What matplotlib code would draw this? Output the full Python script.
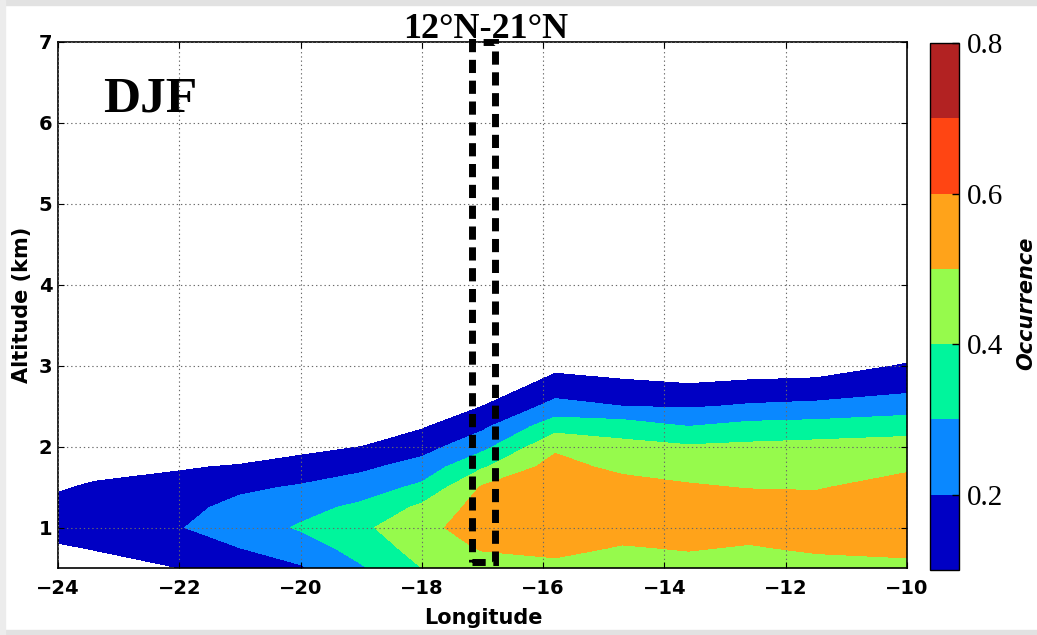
import numpy as np
import matplotlib
matplotlib.use("Agg")
import matplotlib.pyplot as plt
from matplotlib.patches import Rectangle

# ---------------- data ----------------
longitudes = [-24.0, -23.4, -22.0, -21.0, -20.0, -19.0, -18.0, -17.0,
              -15.8, -14.7, -13.6, -12.6, -11.5, -10.0]
altitudes = [0.5, 0.75, 1.0, 1.25, 1.5, 1.75, 2.0, 2.25, 2.5, 2.75, 3.0, 3.25, 3.5]

# occurrence profiles (one list per longitude, bottom -> top)
occ_m24_0 = [0.00, 0.08, 0.17, 0.14, 0.085, 0.00, 0.00, 0.00, 0.00, 0.00, 0.00, 0.00, 0.00]
occ_m23_4 = [0.03, 0.11, 0.19, 0.16, 0.12, 0.05, 0.00, 0.00, 0.00, 0.00, 0.00, 0.00, 0.00]
occ_m22_0 = [0.10, 0.15, 0.195, 0.17, 0.14, 0.09, 0.02, 0.00, 0.00, 0.00, 0.00, 0.00, 0.00]
occ_m21_0 = [0.13, 0.20, 0.25, 0.23, 0.18, 0.11, 0.03, 0.00, 0.00, 0.00, 0.00, 0.00, 0.00]
occ_m20_0 = [0.19, 0.25, 0.31, 0.27, 0.21, 0.14, 0.07, 0.00, 0.00, 0.00, 0.00, 0.00, 0.00]
occ_m19_0 = [0.29, 0.34, 0.38, 0.32, 0.25, 0.18, 0.10, 0.02, 0.00, 0.00, 0.00, 0.00, 0.00]
occ_m18_0 = [0.40, 0.44, 0.47, 0.42, 0.32, 0.24, 0.16, 0.09, 0.02, 0.00, 0.00, 0.00, 0.00]
occ_m17_0 = [0.45, 0.51, 0.55, 0.54, 0.51, 0.39, 0.27, 0.18, 0.10, 0.02, 0.00, 0.00, 0.00]
occ_m15_8 = [0.46, 0.54, 0.58, 0.58, 0.57, 0.54, 0.48, 0.36, 0.23, 0.15, 0.07, 0.00, 0.00]
occ_m14_7 = [0.44, 0.49, 0.56, 0.58, 0.55, 0.47, 0.43, 0.35, 0.20, 0.13, 0.04, 0.00, 0.00]
occ_m13_6 = [0.45, 0.51, 0.56, 0.56, 0.51, 0.46, 0.41, 0.30, 0.19, 0.11, 0.02, 0.00, 0.00]
occ_m12_6 = [0.44, 0.49, 0.55, 0.55, 0.495, 0.46, 0.42, 0.33, 0.21, 0.13, 0.03, 0.00, 0.00]
occ_m11_5 = [0.45, 0.52, 0.56, 0.55, 0.49, 0.46, 0.43, 0.34, 0.22, 0.14, 0.04, 0.00, 0.00]
occ_m10_0 = [0.46, 0.54, 0.57, 0.57, 0.55, 0.48, 0.44, 0.36, 0.25, 0.17, 0.11, 0.03, 0.00]

levels = [0.1, 0.2, 0.3, 0.4, 0.5, 0.6, 0.7, 0.8]
cbar_ticks = [0.2, 0.4, 0.6, 0.8]
cbar_ticklabels = ["0.2", "0.4", "0.6", "0.8"]
x_ticks = [-24, -22, -20, -18, -16, -14, -12, -10]
y_ticks = [1, 2, 3, 4, 5, 6, 7]
box_lon = [-17.17, -16.79]
box_alt = [0.58, 7.0]

colors = ["#0000c4", "#0a88ff", "#00f59c", "#96fa4c", "#ffa31a", "#ff4513", "#b22222"]

Z = np.array([occ_m24_0, occ_m23_4, occ_m22_0, occ_m21_0, occ_m20_0, occ_m19_0,
              occ_m18_0, occ_m17_0, occ_m15_8, occ_m14_7, occ_m13_6, occ_m12_6,
              occ_m11_5, occ_m10_0]).T

sans = ["DejaVu Sans Condensed", "DejaVu Sans"]

# ---------------- figure ----------------
W, H = 1037, 635
fig = plt.figure(figsize=(W / 100, H / 100), dpi=100)
fig.patch.set_facecolor("white")

# light grey scan border
fig.patches.append(Rectangle((0, 1 - 5 / H), 1, 5 / H, transform=fig.transFigure,
                             color="#e2e2e2", zorder=0))
fig.patches.append(Rectangle((0, 0), 1, 5 / H, transform=fig.transFigure,
                             color="#e2e2e2", zorder=0))
fig.patches.append(Rectangle((0, 0), 5 / W, 1, transform=fig.transFigure,
                             color="#ececec", zorder=0))

ax_l, ax_r, ax_t, ax_b = 58, 907, 42, 568
ax = fig.add_axes([ax_l / W, 1 - ax_b / H, (ax_r - ax_l) / W, (ax_b - ax_t) / H])
cs = ax.contourf(longitudes, altitudes, Z, levels=levels, colors=colors)
ax.set_xlim(-24, -10)
ax.set_ylim(0.5, 7)
ax.set_xticks(x_ticks)
ax.set_yticks(y_ticks)
ax.set_xticklabels([f"\u2212{abs(v)}" for v in x_ticks])
ax.set_yticklabels([str(v) for v in y_ticks])
ax.grid(True, color="#6a6a6a", linestyle=(0, (1.2, 2.6)), linewidth=0.8)
ax.set_axisbelow(False)
ax.tick_params(direction="in", top=True, right=True, length=4, width=0.8)
ax.tick_params(axis="x", pad=8, labelsize=14)
ax.tick_params(axis="y", pad=4, labelsize=14)
for lab in ax.get_xticklabels() + ax.get_yticklabels():
    lab.set_fontweight("bold")
    lab.set_family(sans)
for sp in ax.spines.values():
    sp.set_linewidth(1.2)

# dashed box
rect = Rectangle((box_lon[0], box_alt[0]), box_lon[1] - box_lon[0], box_alt[1] - box_alt[0],
                 fill=False, edgecolor="black", linewidth=5,
                 linestyle=(0, (1.9, 1.1)), clip_on=False, zorder=5)
ax.add_patch(rect)

ax.text(0.053, 0.867, "DJF", transform=ax.transAxes, fontsize=37, fontweight="bold",
        family="Liberation Serif", ha="left", va="baseline")
ax.text(0.504, 1.0076, "12\u00b0N-21\u00b0N", transform=ax.transAxes, fontsize=26,
        fontweight="bold", family="Liberation Serif", ha="center", va="baseline")

fig.text(483 / W, 1 - 618 / H, "Longitude", fontsize=15, fontweight="bold",
         family=sans, ha="center", va="center")
fig.text(22 / W, 1 - 305 / H, "Altitude (km)", fontsize=15, fontweight="bold",
         family=sans, rotation=90, ha="center", va="center")

# colorbar
cb_l, cb_r, cb_t, cb_b = 930, 959, 43, 570
cax = fig.add_axes([cb_l / W, 1 - cb_b / H, (cb_r - cb_l) / W, (cb_b - cb_t) / H])
cb = fig.colorbar(cs, cax=cax)
cb.set_ticks(cbar_ticks)
cb.set_ticklabels(cbar_ticklabels)
cax.tick_params(direction="in", length=5, width=1, pad=6, labelsize=21)
for lab in cax.get_yticklabels():
    lab.set_family("Liberation Serif")
cb.outline.set_linewidth(1.0)
fig.text(1026 / W, 1 - 303 / H, "Occurrence", fontsize=15, fontweight="bold",
         family=sans, fontstyle="italic", rotation=90, ha="center", va="center")

fig.savefig("out.png", dpi=100)
